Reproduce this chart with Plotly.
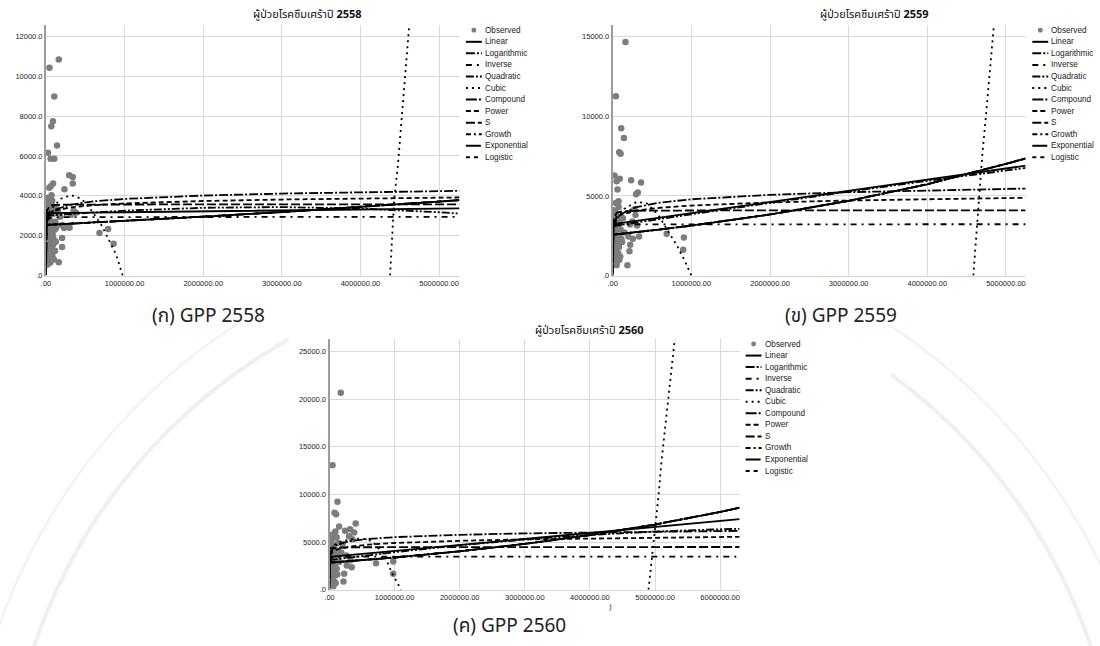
import plotly.graph_objects as go

# ---------------- data ----------------
MODELS = ["Linear", "Logarithmic", "Inverse", "Quadratic", "Cubic", "Compound",
          "Power", "S", "Growth", "Exponential", "Logistic"]

# ---- 2558 ----
OBS_2558 = [(162000, 10840), (44000, 10430), (105000, 8980), (88000, 7740), (68000, 7490),
            (140000, 6520), (25000, 6160), (58000, 5860), (105000, 5860), (295000, 5030),
            (340000, 4950), (340000, 4620), (90000, 4620), (60000, 4480), (42000, 4400),
            (234000, 4330), (70000, 4030), (680000, 2130), (790000, 2330), (860000, 1590),
            (204000, 1880), (204000, 1430), (162000, 670), (230000, 2380), (300000, 2400),
            (260000, 2470), (205000, 2540), (320000, 3050), (350000, 3250), (380000, 3150),
            (8000, 3750), (15000, 3600), (22000, 3900), (30000, 3700), (12000, 3300),
            (35000, 3450), (50000, 3620), (65000, 3550), (80000, 3300), (95000, 3100),
            (18000, 3000), (40000, 2900), (55000, 2750), (75000, 2600), (100000, 2500),
            (28000, 2650), (10000, 2450), (45000, 2300), (60000, 2200), (85000, 2050),
            (20000, 2000), (35000, 1800), (70000, 1700), (90000, 1550), (15000, 1600),
            (50000, 1400), (25000, 1250), (65000, 1150), (80000, 1000), (40000, 900),
            (30000, 750), (55000, 650), (20000, 550), (75000, 1300), (95000, 1850),
            (110000, 2300), (120000, 2700), (45000, 3150), (10000, 1100), (78000, 3750),
            (130000, 3350), (150000, 3250), (180000, 2950), (130000, 2400), (115000, 1250),
            (100000, 800), (125000, 1700), (5000, 2900), (3000, 1900), (6000, 1200)]
GRID_2558 = [1, 1000, 10000, 50000, 100000, 300000, 600000, 1000000, 2000000,
             3000000, 4000000, 5000000, 5260000]
LINEAR_2558 = [3130, 3130, 3130, 3132, 3135, 3144, 3158, 3176, 3222, 3267, 3313, 3358, 3370]
LOG_2558 = [470, 2158, 2720, 3110, 3280, 3550, 3720, 3845, 4015, 4113, 4183, 4238, 4250]
INVERSE_2558 = [None, 940, 2740, 2900, 2920, 2933, 2937, 2938, 2939, 2940, 2940, 2940, 2940]
QUAD_2558 = [3000, 3000, 3003, 3015, 3031, 3088, 3166, 3255, 3400, 3435, 3360, 3175, 3109]
EXP_2558 = [2540, 2540, 2542, 2550, 2559, 2598, 2657, 2739, 2955, 3187, 3437, 3708, 3780]
POWER_2558 = [1864, 2596, 2900, 3131, 3238, 3413, 3528, 3617, 3740, 3814, 3867, 3908, 3919]
S_2558 = [0, 900, 3250, 3510, 3540, 3560, 3566, 3568, 3570, 3571, 3571, 3571, 3571]
CUBIC_X_2558 = [0, 50000, 111000, 196000, 323000, 450000, 524000, 600000, 705000, 808000,
                892000, 955000, 975000, None, 4376000, 4430000, 4476000, 4544000, 4622000, 4660000]
CUBIC_Y_2558 = [2900, 3250, 3536, 3869, 4034, 3850, 3536, 3150, 2540, 1713,
                1046, 249, 0, None, 0, 3870, 5530, 8850, 12535, 14500]

# ---- 2559 ----
OBS_2559 = [(162000, 14665), (40000, 11260), (108000, 9245), (142000, 8640), (82000, 7750),
            (100000, 7645), (23000, 6290), (90000, 6085), (50000, 5920), (234000, 5980),
            (360000, 5840), (61000, 5400), (319000, 5215), (297000, 5110), (73000, 4670),
            (40000, 4550), (276000, 4160), (200000, 2455), (256000, 2305), (335000, 2455),
            (222000, 1930), (213000, 1520), (187000, 650), (686000, 2620), (905000, 2390),
            (896000, 1620), (290000, 3800), (250000, 3400), (220000, 3200), (310000, 3150),
            (8000, 4100), (15000, 3900), (25000, 3700), (35000, 4000), (45000, 3800),
            (60000, 3600), (75000, 3500), (90000, 3300), (12000, 3400), (30000, 3200),
            (50000, 3100), (70000, 3000), (100000, 2900), (20000, 2800), (40000, 2700),
            (65000, 2500), (85000, 2400), (110000, 2300), (15000, 2200), (35000, 2100),
            (55000, 2000), (80000, 1800), (25000, 1700), (45000, 1500), (70000, 1400),
            (95000, 1200), (30000, 1100), (60000, 900), (20000, 800), (50000, 650),
            (85000, 1000), (120000, 2100), (130000, 3600), (150000, 2700), (10000, 1300),
            (40000, 3450), (75000, 4300), (5000, 2500)]
GRID_2559 = [1, 1000, 10000, 50000, 100000, 300000, 600000, 1000000, 2000000,
             3000000, 4000000, 5000000, 5250000]
LINEAR_2559 = [3226, 3227, 3233, 3261, 3295, 3434, 3642, 3920, 4614, 5308, 6002, 6696, 6900]
LOG_2559 = [-800, 1986, 2921, 3574, 3855, 4301, 4583, 4790, 5072, 5236, 5353, 5444, 5464]
INVERSE_2559 = [None, 1000, 3000, 3177, 3199, 3214, 3218, 3219, 3220, 3221, 3221, 3221, 3221]
QUAD_2559 = [3100, 3101, 3108, 3138, 3176, 3327, 3552, 3848, 4572, 5272, 5948, 6600, 6759]
EXP_2559 = [2566, 2566, 2571, 2592, 2618, 2724, 2892, 3137, 3836, 4690, 5734, 7011, 7358]
POWER_2559 = [1842, 2846, 3291, 3643, 3805, 4078, 4259, 4398, 4594, 4713, 4800, 4868, 4885]
S_2559 = [0, 1200, 3500, 3950, 4020, 4070, 4082, 4087, 4090, 4091, 4092, 4093, 4093]
CUBIC_X_2559 = [0, 50000, 150000, 306000, 433000, 580000, 706000, 812000, 918000, 1000000,
                None, 4585000, 4614000, 4635000, 4669000, 4700000, 4750000, 4800000, 4860000]
CUBIC_Y_2559 = [3300, 3700, 4200, 4635, 4530, 3800, 2766, 1931, 897, 0,
                None, 0, 1931, 3800, 5881, 7645, 10300, 13200, 16500]

# ---- 2560 ----
OBS_2560 = [(173000, 20660), (46000, 13050), (122000, 9230), (77000, 8080), (102000, 7920),
            (148000, 6625), (402000, 6940), (316000, 6350), (240000, 6180), (378000, 6000),
            (90000, 6100), (70000, 5800), (55000, 5600), (341000, 2350), (265000, 2530),
            (225000, 1670), (214000, 865), (714000, 2770), (979000, 2950), (979000, 1670),
            (300000, 5600), (350000, 5300), (200000, 4800), (180000, 3900), (260000, 3600),
            (320000, 3100), (150000, 2900),
            (8000, 5400), (15000, 5100), (25000, 4900), (35000, 5300), (45000, 4700),
            (60000, 4500), (80000, 4300), (100000, 4100), (12000, 4000), (30000, 3800),
            (50000, 3600), (70000, 3400), (90000, 3200), (20000, 3000), (40000, 2800),
            (65000, 2600), (85000, 2400), (110000, 2200), (15000, 2100), (35000, 1900),
            (55000, 1700), (80000, 1500), (25000, 1300), (45000, 1100), (70000, 900),
            (95000, 700), (30000, 500), (60000, 350), (120000, 1600), (130000, 4900),
            (10000, 2500), (50000, 5800), (110000, 5500), (140000, 3500)]
GRID_2560 = [1, 1000, 10000, 50000, 100000, 300000, 600000, 1000000, 2000000,
             3000000, 4000000, 5000000, 6000000, 6300000]
LINEAR_2560 = [3439, 3440, 3445, 3470, 3502, 3627, 3816, 4067, 4695, 5323, 5951, 6579, 7207, 7395]
LOG_2560 = [541, 3026, 3855, 4435, 4684, 5080, 5329, 5513, 5763, 5909, 6012, 6092, 6158, 6176]
INVERSE_2560 = [None, 1100, 3230, 3420, 3445, 3461, 3465, 3467, 3468, 3469, 3469, 3469, 3469, 3469]
QUAD_2560 = [3100, 3101, 3109, 3145, 3189, 3365, 3618, 3940, 4660, 5260, 5740, 6100, 6340, 6389]
EXP_2560 = [2834, 2834, 2839, 2859, 2884, 2986, 3141, 3380, 4031, 4808, 5734, 6839, 8157, 8604]
POWER_2560 = [1917, 3065, 3584, 3998, 4190, 4515, 4733, 4900, 5134, 5278, 5382, 5464, 5532, 5552]
S_2560 = [0, 1000, 3700, 4300, 4390, 4450, 4465, 4470, 4474, 4476, 4477, 4478, 4479, 4479]
CUBIC_X_2560 = [0, 50000, 138000, 300000, 469000, 600000, 673000, 750000, 850000, 953000,
                1050000, 1100000, None, 4900000, 4950000, 5000000, 5050000, 5100000,
                5200000, 5300000, 5330000]
CUBIC_Y_2560 = [4300, 4600, 4958, 5250, 5375, 5250, 4958, 4400, 3573, 1833,
                600, 0, None, 0, 3200, 6200, 9600, 13500, 20000, 26200, 28000]

X_TICKS_2558 = [0, 1000000, 2000000, 3000000, 4000000, 5000000]
Y_TICKS_2558 = [0, 2000, 4000, 6000, 8000, 10000, 12000]
X_TICKS_2559 = [0, 1000000, 2000000, 3000000, 4000000, 5000000]
Y_TICKS_2559 = [0, 5000, 10000, 15000]
X_TICKS_2560 = [0, 1000000, 2000000, 3000000, 4000000, 5000000, 6000000]
Y_TICKS_2560 = [0, 5000, 10000, 15000, 20000, 25000]

TITLE_TEXT = "ผู้ป่วยโรคซึมเศร้าปี"
CAPTIONS = ["(ก) GPP 2558", "(ข) GPP 2559", "(ค) GPP 2560"]

# ---------------- styling ----------------
W, H = 1100, 646
DASH = {"Linear": "solid", "Logarithmic": "9px,2px,2px,2px", "Inverse": "6px,5px,2px,5px",
        "Quadratic": "8px,2px,2px,2px,2px,2px", "Cubic": "2px,4px", "Compound": "11px,2px,2px,2px",
        "Power": "5px,3px", "S": "9px,3px", "Growth": "5px,3px,2px,3px",
        "Exponential": "15px,2px,2px,2px", "Logistic": "4px,4px"}
LATIN = "Liberation Sans, Arial, sans-serif"
THAI = "Noto Sans Thai, Loma, Garuda, Tahoma, Noto Sans, sans-serif"


def fx(x):
    return x / W


def fy(y):
    return 1 - y / H


PANELS = [
    dict(year="2558", ax="", obs=OBS_2558, grid=GRID_2558,
         curves={"Linear": LINEAR_2558, "Logarithmic": LOG_2558, "Inverse": INVERSE_2558,
                 "Quadratic": QUAD_2558, "Compound": EXP_2558, "Power": POWER_2558,
                 "S": S_2558, "Growth": EXP_2558, "Exponential": EXP_2558, "Logistic": EXP_2558},
         cubic=(CUBIC_X_2558, CUBIC_Y_2558), xt=X_TICKS_2558, yt=Y_TICKS_2558,
         xdom=(41.2, 456.6), ydom=(25, 277.7), xmax=5260000, ymax=12580,
         title=(304, 15), leg=(463, 30.5), cap=(204, 319)),
    dict(year="2559", ax="2", obs=OBS_2559, grid=GRID_2559,
         curves={"Linear": LINEAR_2559, "Logarithmic": LOG_2559, "Inverse": INVERSE_2559,
                 "Quadratic": QUAD_2559, "Compound": EXP_2559, "Power": POWER_2559,
                 "S": S_2559, "Growth": EXP_2559, "Exponential": EXP_2559, "Logistic": EXP_2559},
         cubic=(CUBIC_X_2559, CUBIC_Y_2559), xt=X_TICKS_2559, yt=Y_TICKS_2559,
         xdom=(610.5, 1025.3), ydom=(25, 277.7), xmax=5250000, ymax=15750,
         title=(873, 15), leg=(1032, 30.5), cap=(840, 319)),
    dict(year="2560", ax="3", obs=OBS_2560, grid=GRID_2560,
         curves={"Linear": LINEAR_2560, "Logarithmic": LOG_2560, "Inverse": INVERSE_2560,
                 "Quadratic": QUAD_2560, "Compound": EXP_2560, "Power": POWER_2560,
                 "S": S_2560, "Growth": EXP_2560, "Exponential": EXP_2560, "Logistic": EXP_2560},
         cubic=(CUBIC_X_2560, CUBIC_Y_2560), xt=X_TICKS_2560, yt=Y_TICKS_2560,
         xdom=(326, 738), ydom=(341.7, 594.3), xmax=6300000, ymax=26300,
         title=(587, 332.7), leg=(744, 346.7), cap=(507, 631)),
]

fig = go.Figure()
shapes = []
annotations = []

# faint watermark behind everything
for r, wdt in [(560, 4), (600, 2)]:
    shapes.append(dict(type="circle", xref="paper", yref="paper", layer="below",
                       x0=fx(560 - r), x1=fx(560 + r), y0=fy(830 + r), y1=fy(830 - r),
                       line=dict(color="#f0f0f0", width=wdt)))
shapes.append(dict(type="rect", xref="paper", yref="paper", layer="below",
                   x0=0, x1=1, y0=fy(326), y1=1, fillcolor="white", line=dict(width=0)))
shapes.append(dict(type="rect", xref="paper", yref="paper", layer="below",
                   x0=fx(285), x1=fx(890), y0=fy(637), y1=fy(326), fillcolor="white",
                   line=dict(width=0)))

layout_axes = {}
ROW = 11.64
for idx, p in enumerate(PANELS):
    xa = "x" + p["ax"]
    ya = "y" + p["ax"]
    ox, oy = [o[0] for o in p["obs"]], [o[1] for o in p["obs"]]
    fig.add_trace(go.Scatter(x=ox, y=oy, mode="markers", name="Observed", showlegend=False,
                             marker=dict(color="#7d7d7d", size=6.5, line=dict(width=0)),
                             xaxis=xa, yaxis=ya))
    for m in MODELS:
        if m == "Cubic":
            xs, ys = p["cubic"]
        else:
            xs, ys = p["grid"], p["curves"][m]
        fig.add_trace(go.Scatter(x=xs, y=ys, mode="lines", name=m, showlegend=False,
                                 connectgaps=False,
                                 line=dict(color="black", width=1.8, dash=DASH[m]),
                                 xaxis=xa, yaxis=ya))
    xkey = "xaxis" + p["ax"]
    ykey = "yaxis" + p["ax"]
    layout_axes[xkey] = dict(
        domain=[fx(p["xdom"][0]), fx(p["xdom"][1])], range=[0, p["xmax"]], anchor=ya,
        tickvals=p["xt"], ticktext=[".00" if v == 0 else f"{v:.2f}" for v in p["xt"]],
        showgrid=True, gridcolor="#d9d9d9", gridwidth=1, zeroline=False,
        showline=True, linecolor="#d6d6d6", linewidth=1, ticks="",
        tickfont=dict(size=7.5, color="#222", family=LATIN), fixedrange=True)
    layout_axes[ykey] = dict(
        domain=[fy(p["ydom"][1]), fy(p["ydom"][0])], range=[0, p["ymax"]], anchor=xa,
        tickvals=p["yt"], ticktext=[".0" if v == 0 else f"{v:.1f}" for v in p["yt"]],
        showgrid=True, gridcolor="#d9d9d9", gridwidth=1, zeroline=False,
        showline=True, linecolor="#9c9c9c", linewidth=2, ticks="",
        tickfont=dict(size=7.5, color="#222", family=LATIN), fixedrange=True)

    tx, ty = p["title"]
    annotations.append(dict(xref="paper", yref="paper", x=fx(tx), y=fy(ty), showarrow=False,
                            xanchor="center", yanchor="middle",
                            text=f"{TITLE_TEXT} <b>{p['year']}</b>",
                            font=dict(size=11, color="#111", family=THAI)))
    cx, cy = p["cap"]
    annotations.append(dict(xref="paper", yref="paper", x=fx(cx), y=fy(cy), showarrow=False,
                            xanchor="center", yanchor="middle", text=CAPTIONS[idx],
                            font=dict(size=19, color="#222", family=THAI)))
    lx, ly = p["leg"]
    for i, name in enumerate(["Observed"] + MODELS):
        yy = ly + i * ROW
        if name == "Observed":
            shapes.append(dict(type="circle", xref="paper", yref="paper",
                               x0=fx(lx + 5.5), x1=fx(lx + 10.5), y0=fy(yy + 2.5), y1=fy(yy - 2.5),
                               fillcolor="#7d7d7d", line=dict(width=0)))
        else:
            shapes.append(dict(type="line", xref="paper", yref="paper",
                               x0=fx(lx), x1=fx(lx + 16), y0=fy(yy), y1=fy(yy),
                               line=dict(color="black", width=2, dash=DASH[name])))
        annotations.append(dict(xref="paper", yref="paper", x=fx(lx + 17), y=fy(yy),
                                showarrow=False, xanchor="left", yanchor="middle", text=name,
                                font=dict(size=8.2, color="#222", family=LATIN)))

# cropped axis-title remnant under the third panel
annotations.append(dict(xref="paper", yref="paper", x=fx(608), y=fy(618), showarrow=False,
                        text=")", font=dict(size=8, color="#333", family=LATIN)))

fig.update_layout(width=W, height=H, margin=dict(l=0, r=0, t=0, b=0),
                  paper_bgcolor="white", plot_bgcolor="white", showlegend=False,
                  hovermode=False,
                  shapes=shapes, annotations=annotations, **layout_axes)

fig.write_html("out.html", config={"displayModeBar": False, "staticPlot": True},
               post_script="document.body.style.margin='0px';document.body.style.overflow='hidden';")
